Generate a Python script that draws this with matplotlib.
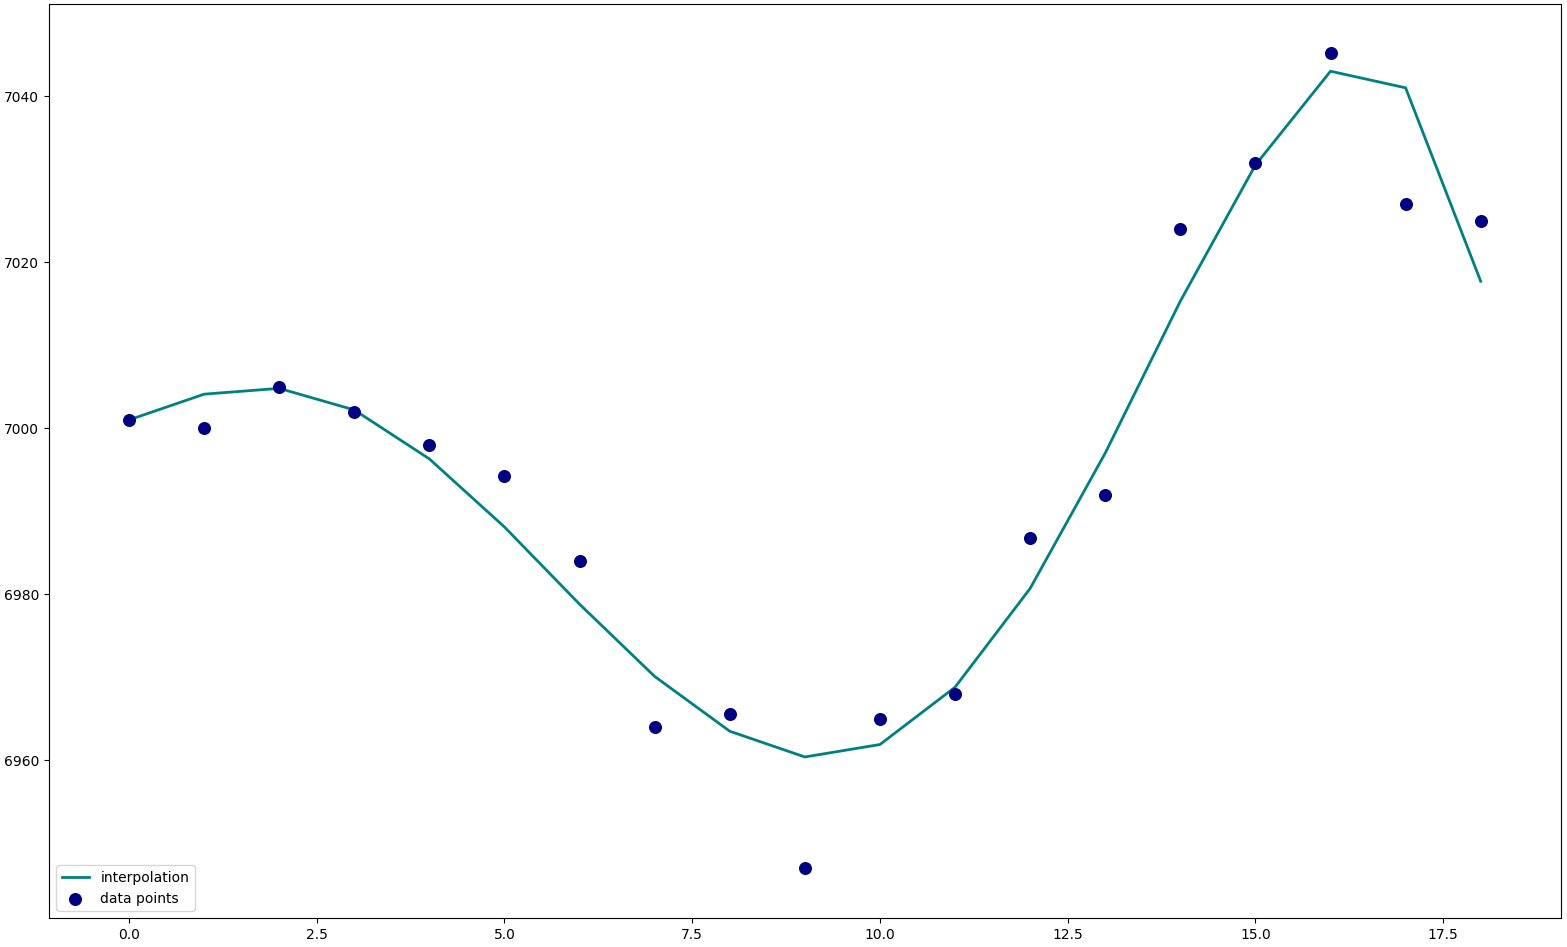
import matplotlib
matplotlib.use("Agg")
import matplotlib.pyplot as plt

x_points = list(range(19))
y_points = [7001, 7000, 7005, 7002, 6998, 6994.3, 6984, 6964, 6965.6, 6947,
            6965, 6968, 6986.8, 6992, 7024, 7032, 7045.2, 7027, 7025]
y_interp = [7001, 7004.1, 7004.8, 7002.2, 6996.3, 6988.1, 6978.8, 6970.1, 6963.5, 6960.4,
            6961.9, 6968.8, 6980.7, 6997, 7015.3, 7031.7, 7043, 7041, 7017.7]

fig = plt.figure(figsize=(15.67, 9.47), dpi=100)
ax = fig.add_axes([0.0313, 0.0306, 0.9649, 0.9652])
ax.plot(x_points, y_interp, color="teal", linewidth=2, label="interpolation")
ax.scatter(x_points, y_points, color="navy", s=70, label="data points", zorder=3)
ax.set_xlim(-1.065, 19.07)
ax.set_ylim(6941.0, 7051.1)
ax.set_yticks([6960, 6980, 7000, 7020, 7040])
ax.legend(loc="lower left")
fig.savefig("out.png", dpi=100)
